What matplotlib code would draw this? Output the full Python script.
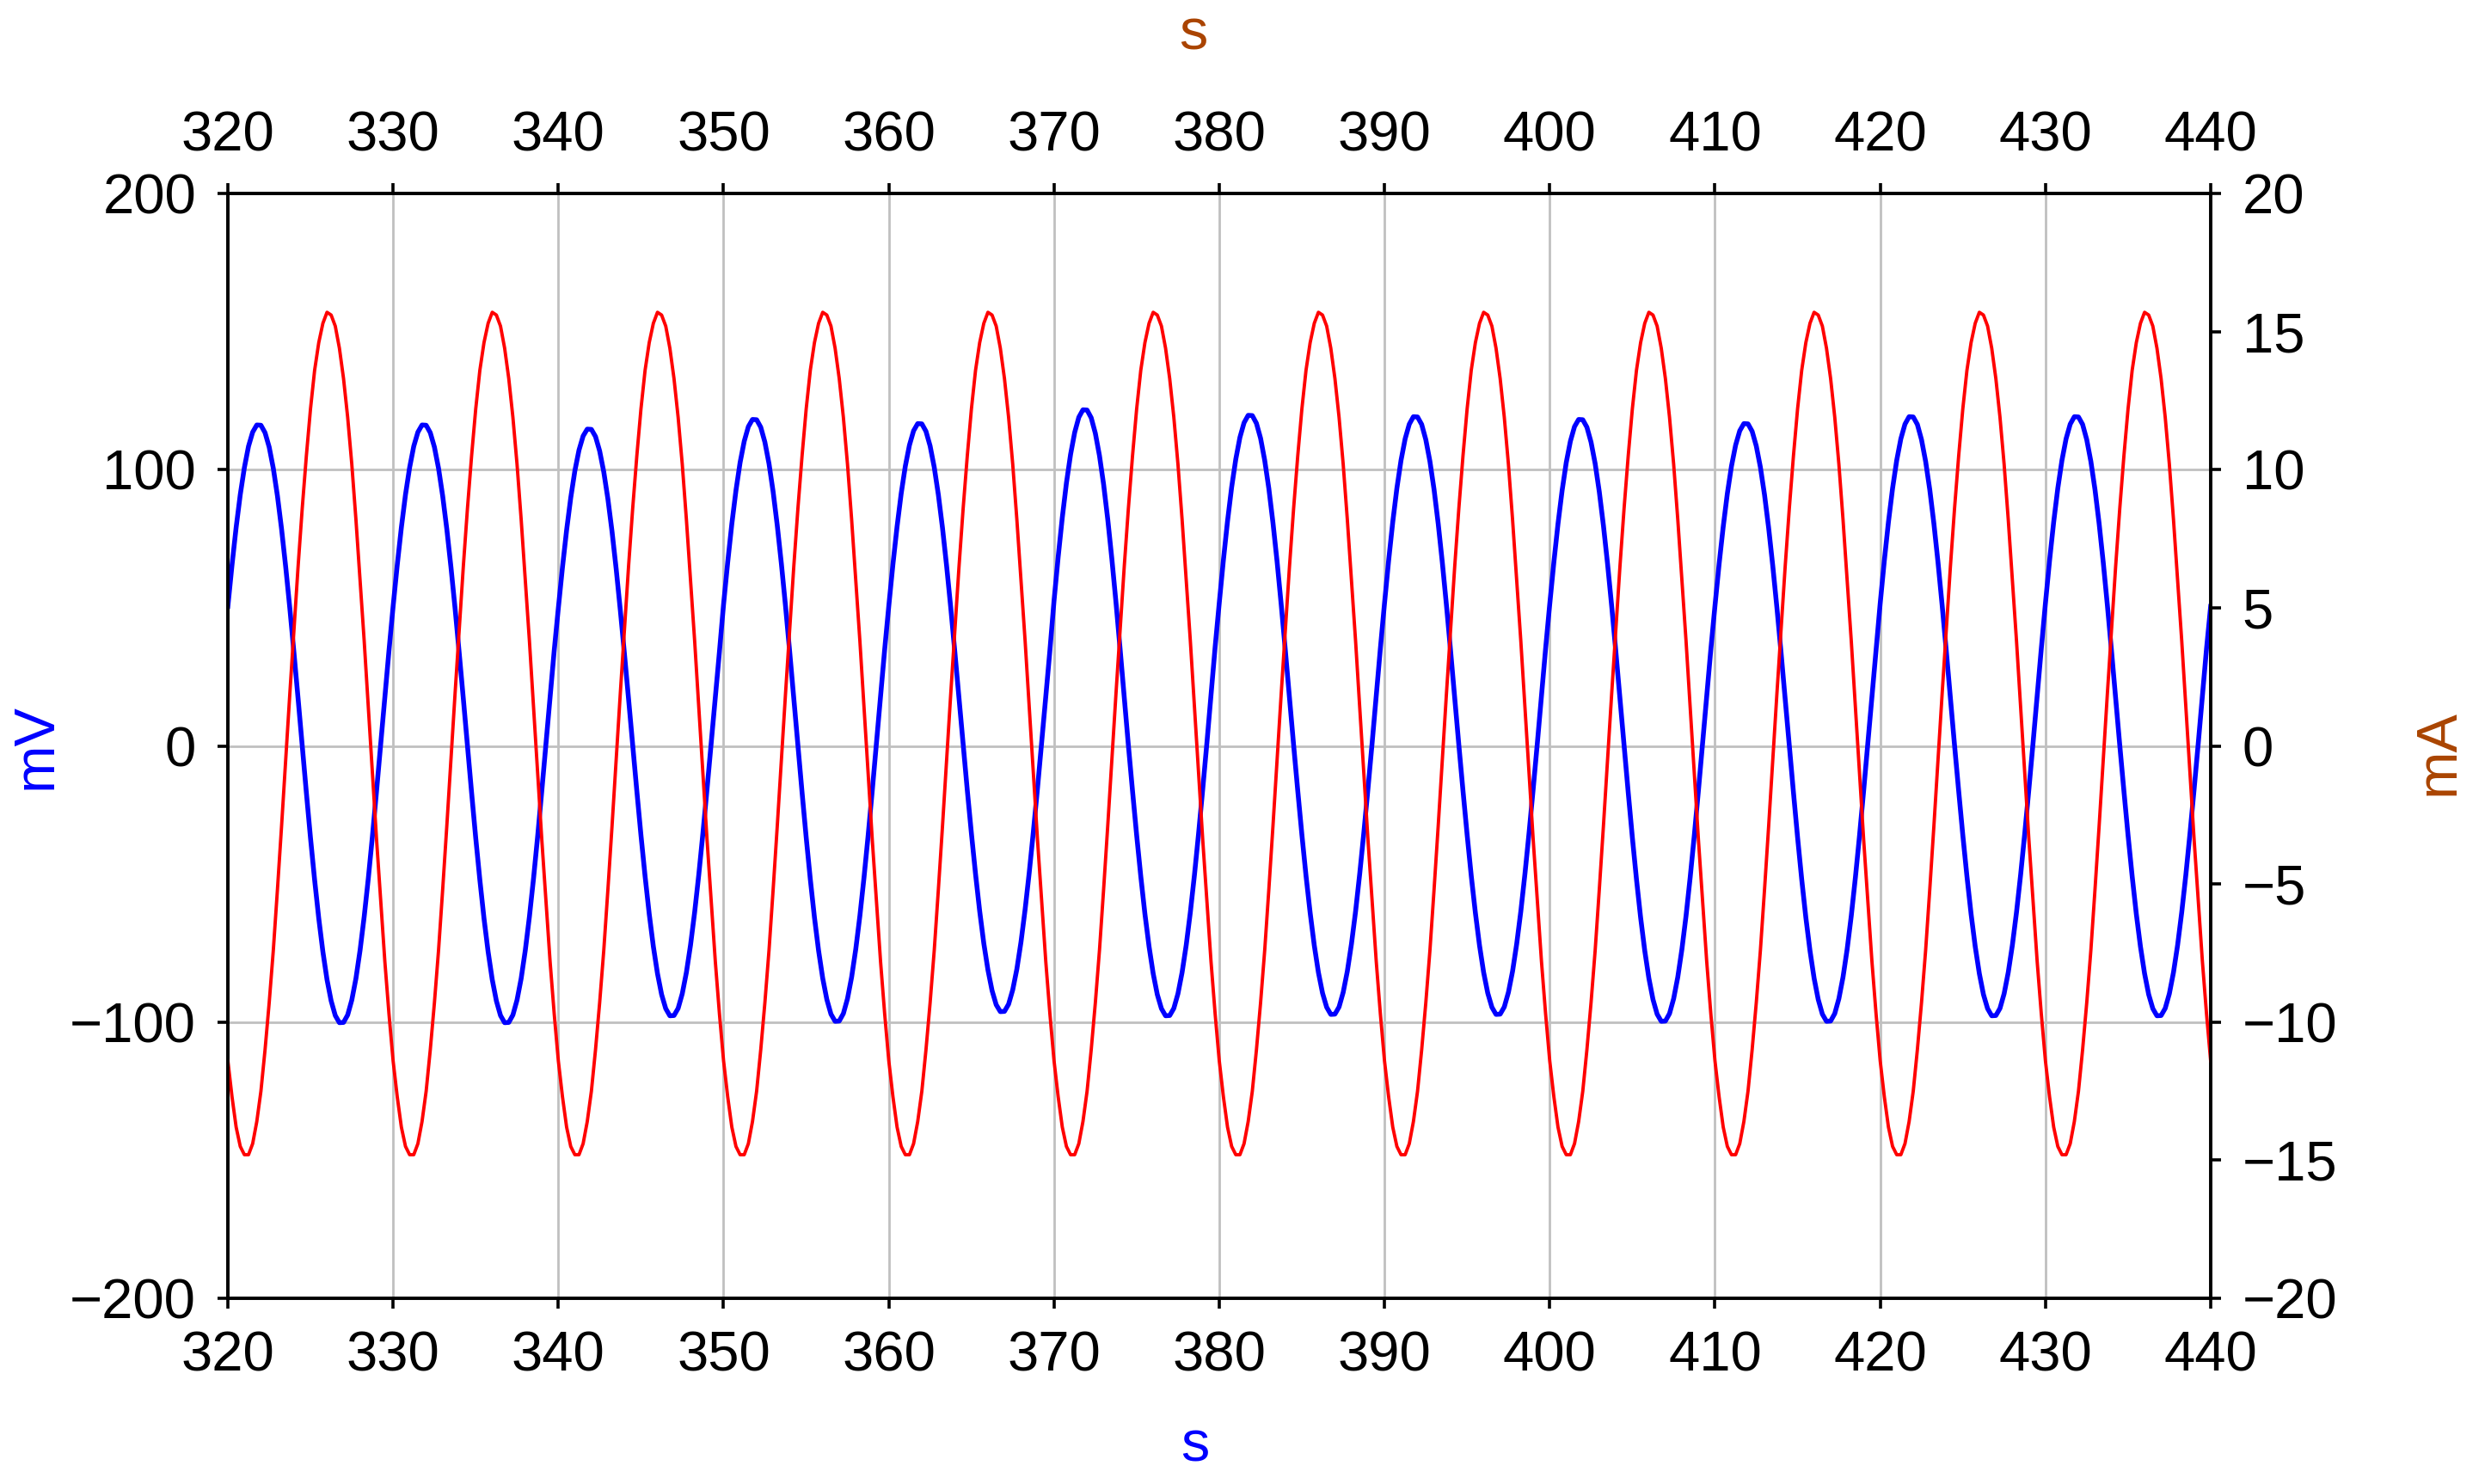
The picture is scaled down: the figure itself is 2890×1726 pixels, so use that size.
import numpy as np
import matplotlib.pyplot as plt

plt.rcParams['font.family'] = ['Liberation Sans', 'DejaVu Sans']

time_s = np.arange(320, 440.125, 0.25)

voltage_mV = [
    50.5, 65.5, 79.1, 91.0, 100.8, 108.5, 113.6, 116.2, 116.1, 113.4, 108.2, 100.5, 90.5, 78.5, 64.8, 49.8, 33.7, 17.1,
    0.0, -16.9, -33.3, -48.5, -62.4, -74.5, -84.6, -92.3, -97.6, -100.2, -100.1, -97.4, -92.0, -84.2, -74.0, -61.8, -47.9, -32.6, -16.2, 0.8, 17.8, 34.5,
    50.5, 65.5, 79.1, 91.0, 100.8, 108.5, 113.6, 116.2, 116.1, 113.4, 108.2, 100.5, 90.5, 78.5, 64.8, 49.8, 33.7, 17.1,
    0.0, -16.9, -33.3, -48.5, -62.4, -74.5, -84.6, -92.3, -97.6, -100.2, -100.1, -97.4, -92.0, -84.2, -74.0, -61.8, -47.9, -32.6, -16.2, 0.8, 17.8, 34.5,
    49.9, 64.7, 78.1, 89.8, 99.6, 107.1, 112.2, 114.7, 114.6, 112.0, 106.8, 99.2, 89.4, 77.6, 64.1, 49.2, 33.4, 17.0,
    0.2, -16.3, -32.3, -47.2, -60.8, -72.6, -82.4, -90.0, -95.1, -97.7, -97.6, -95.0, -89.7, -82.0, -72.1, -60.2, -46.6, -31.6, -15.6, 1.0, 17.7, 34.1,
    51.3, 66.5, 80.4, 92.5, 102.6, 110.3, 115.6, 118.2, 118.1, 115.4, 110.0, 102.2, 92.0, 79.8, 65.9, 50.6, 34.2, 17.2,
    0.1, -16.8, -33.1, -48.3, -62.1, -74.1, -84.1, -91.8, -97.1, -99.7, -99.6, -96.9, -91.5, -83.7, -73.6, -61.5, -47.6, -32.4, -16.1, 0.8, 18.0, 34.9,
    50.7, 65.8, 79.4, 91.4, 101.3, 108.9, 114.1, 116.7, 116.6, 113.9, 108.6, 100.9, 90.9, 78.9, 65.1, 50.0, 33.8, 17.1,
    0.4, -16.0, -31.7, -46.4, -59.8, -71.5, -81.1, -88.6, -93.7, -96.2, -96.1, -93.5, -88.3, -80.8, -71.0, -59.2, -45.8, -31.0, -15.3, 1.1, 17.8, 34.6,
    52.6, 68.4, 82.7, 95.2, 105.5, 113.5, 119.0, 121.7, 121.6, 118.8, 113.2, 105.1, 94.7, 82.1, 67.7, 51.9, 35.0, 17.5,
    0.2, -16.3, -32.3, -47.2, -60.8, -72.6, -82.4, -90.0, -95.1, -97.7, -97.6, -95.0, -89.7, -82.0, -72.1, -60.2, -46.6, -31.6, -15.6, 1.0, 18.3, 35.8,
    51.8, 67.3, 81.4, 93.7, 103.8, 111.7, 117.0, 119.7, 119.6, 116.8, 111.4, 103.4, 93.2, 80.8, 66.7, 51.1, 34.5, 17.3,
    0.3, -16.2, -32.1, -47.0, -60.4, -72.2, -82.0, -89.5, -94.6, -97.2, -97.1, -94.5, -89.2, -81.6, -71.7, -59.9, -46.3, -31.4, -15.5, 1.0, 18.1, 35.3,
    51.6, 67.1, 81.1, 93.3, 103.4, 111.2, 116.5, 119.2, 119.1, 116.4, 110.9, 103.0, 92.8, 80.5, 66.4, 50.9, 34.4, 17.3,
    0.3, -16.2, -32.1, -47.0, -60.4, -72.2, -82.0, -89.5, -94.6, -97.2, -97.1, -94.5, -89.2, -81.6, -71.7, -59.9, -46.3, -31.4, -15.5, 1.0, 18.0, 35.2,
    51.3, 66.5, 80.4, 92.5, 102.6, 110.3, 115.6, 118.2, 118.1, 115.4, 110.0, 102.2, 92.0, 79.8, 65.9, 50.6, 34.2, 17.2,
    0.1, -16.8, -33.1, -48.3, -62.1, -74.1, -84.1, -91.8, -97.1, -99.7, -99.6, -96.9, -91.5, -83.7, -73.6, -61.5, -47.6, -32.4, -16.1, 0.8, 18.0, 34.9,
    50.7, 65.8, 79.4, 91.4, 101.3, 108.9, 114.1, 116.7, 116.6, 113.9, 108.6, 100.9, 90.9, 78.9, 65.1, 50.0, 33.8, 17.1,
    0.1, -16.8, -33.1, -48.3, -62.1, -74.1, -84.1, -91.8, -97.1, -99.7, -99.6, -96.9, -91.5, -83.7, -73.6, -61.5, -47.6, -32.4, -16.1, 0.8, 17.8, 34.6,
    51.6, 67.1, 81.1, 93.3, 103.4, 111.2, 116.5, 119.2, 119.1, 116.4, 110.9, 103.0, 92.8, 80.5, 66.4, 50.9, 34.4, 17.3,
    0.2, -16.3, -32.3, -47.2, -60.8, -72.6, -82.4, -90.0, -95.1, -97.7, -97.6, -95.0, -89.7, -82.0, -72.1, -60.2, -46.6, -31.6, -15.6, 1.0, 18.0, 35.2,
    51.6, 67.1, 81.1, 93.3, 103.4, 111.2, 116.5, 119.2, 119.1, 116.4, 110.9, 103.0, 92.8, 80.5, 66.4, 50.9, 34.4, 17.3,
    0.2, -16.3, -32.3, -47.2, -60.8, -72.6, -82.4, -90.0, -95.1, -97.7, -97.6, -95.0, -89.7, -82.0, -72.1, -60.2, -46.6, -31.6, -15.6, 1.0, 18.0, 35.2,
    50.5,
]

current_mA = [
    -11.4, -12.7, -13.8, -14.5, -14.8, -14.8, -14.4, -13.6, -12.5, -11.0, -9.3, -7.4, -5.2, -2.9, -0.5, 1.9, 4.2, 6.5, 8.6, 10.5,
    12.2, 13.6, 14.6, 15.3, 15.7, 15.6, 15.2, 14.4, 13.3, 11.9, 10.2, 8.2, 6.0, 3.8, 1.4, -1.0, -3.4, -5.6, -7.8, -9.7,
    -11.4, -12.7, -13.8, -14.5, -14.8, -14.8, -14.4, -13.6, -12.5, -11.0, -9.3, -7.4, -5.2, -2.9, -0.5, 1.9, 4.2, 6.5, 8.6, 10.5,
    12.2, 13.6, 14.6, 15.3, 15.7, 15.6, 15.2, 14.4, 13.3, 11.9, 10.2, 8.2, 6.0, 3.8, 1.4, -1.0, -3.4, -5.6, -7.8, -9.7,
    -11.4, -12.7, -13.8, -14.5, -14.8, -14.8, -14.4, -13.6, -12.5, -11.0, -9.3, -7.4, -5.2, -2.9, -0.5, 1.9, 4.2, 6.5, 8.6, 10.5,
    12.2, 13.6, 14.6, 15.3, 15.7, 15.6, 15.2, 14.4, 13.3, 11.9, 10.2, 8.2, 6.0, 3.8, 1.4, -1.0, -3.4, -5.6, -7.8, -9.7,
    -11.4, -12.7, -13.8, -14.5, -14.8, -14.8, -14.4, -13.6, -12.5, -11.0, -9.3, -7.4, -5.2, -2.9, -0.5, 1.9, 4.2, 6.5, 8.6, 10.5,
    12.2, 13.6, 14.6, 15.3, 15.7, 15.6, 15.2, 14.4, 13.3, 11.9, 10.2, 8.2, 6.0, 3.8, 1.4, -1.0, -3.4, -5.6, -7.8, -9.7,
    -11.4, -12.7, -13.8, -14.5, -14.8, -14.8, -14.4, -13.6, -12.5, -11.0, -9.3, -7.4, -5.2, -2.9, -0.5, 1.9, 4.2, 6.5, 8.6, 10.5,
    12.2, 13.6, 14.6, 15.3, 15.7, 15.6, 15.2, 14.4, 13.3, 11.9, 10.2, 8.2, 6.0, 3.8, 1.4, -1.0, -3.4, -5.6, -7.8, -9.7,
    -11.4, -12.7, -13.8, -14.5, -14.8, -14.8, -14.4, -13.6, -12.5, -11.0, -9.3, -7.4, -5.2, -2.9, -0.5, 1.9, 4.2, 6.5, 8.6, 10.5,
    12.2, 13.6, 14.6, 15.3, 15.7, 15.6, 15.2, 14.4, 13.3, 11.9, 10.2, 8.2, 6.0, 3.8, 1.4, -1.0, -3.4, -5.6, -7.8, -9.7,
    -11.4, -12.7, -13.8, -14.5, -14.8, -14.8, -14.4, -13.6, -12.5, -11.0, -9.3, -7.4, -5.2, -2.9, -0.5, 1.9, 4.2, 6.5, 8.6, 10.5,
    12.2, 13.6, 14.6, 15.3, 15.7, 15.6, 15.2, 14.4, 13.3, 11.9, 10.2, 8.2, 6.0, 3.8, 1.4, -1.0, -3.4, -5.6, -7.8, -9.7,
    -11.4, -12.7, -13.8, -14.5, -14.8, -14.8, -14.4, -13.6, -12.5, -11.0, -9.3, -7.4, -5.2, -2.9, -0.5, 1.9, 4.2, 6.5, 8.6, 10.5,
    12.2, 13.6, 14.6, 15.3, 15.7, 15.6, 15.2, 14.4, 13.3, 11.9, 10.2, 8.2, 6.0, 3.8, 1.4, -1.0, -3.4, -5.6, -7.8, -9.7,
    -11.4, -12.7, -13.8, -14.5, -14.8, -14.8, -14.4, -13.6, -12.5, -11.0, -9.3, -7.4, -5.2, -2.9, -0.5, 1.9, 4.2, 6.5, 8.6, 10.5,
    12.2, 13.6, 14.6, 15.3, 15.7, 15.6, 15.2, 14.4, 13.3, 11.9, 10.2, 8.2, 6.0, 3.8, 1.4, -1.0, -3.4, -5.6, -7.8, -9.7,
    -11.4, -12.7, -13.8, -14.5, -14.8, -14.8, -14.4, -13.6, -12.5, -11.0, -9.3, -7.4, -5.2, -2.9, -0.5, 1.9, 4.2, 6.5, 8.6, 10.5,
    12.2, 13.6, 14.6, 15.3, 15.7, 15.6, 15.2, 14.4, 13.3, 11.9, 10.2, 8.2, 6.0, 3.8, 1.4, -1.0, -3.4, -5.6, -7.8, -9.7,
    -11.4, -12.7, -13.8, -14.5, -14.8, -14.8, -14.4, -13.6, -12.5, -11.0, -9.3, -7.4, -5.2, -2.9, -0.5, 1.9, 4.2, 6.5, 8.6, 10.5,
    12.2, 13.6, 14.6, 15.3, 15.7, 15.6, 15.2, 14.4, 13.3, 11.9, 10.2, 8.2, 6.0, 3.8, 1.4, -1.0, -3.4, -5.6, -7.8, -9.7,
    -11.4, -12.7, -13.8, -14.5, -14.8, -14.8, -14.4, -13.6, -12.5, -11.0, -9.3, -7.4, -5.2, -2.9, -0.5, 1.9, 4.2, 6.5, 8.6, 10.5,
    12.2, 13.6, 14.6, 15.3, 15.7, 15.6, 15.2, 14.4, 13.3, 11.9, 10.2, 8.2, 6.0, 3.8, 1.4, -1.0, -3.4, -5.6, -7.8, -9.7,
    -11.4,
]

x_ticks = list(range(320, 441, 10))
mv_ticks = [-200, -100, 0, 100, 200]
ma_ticks = [-20, -15, -10, -5, 0, 5, 10, 15, 20]

blue = '#0000ff'
red = '#ff0000'
brown = '#aa4400'

fig = plt.figure(figsize=(14.45, 8.63), dpi=200)
ax = fig.add_axes([0.0917, 0.1251, 0.7979, 0.7445])
ax.grid(True, color='#c0c0c0', lw=1.0)
ax.set_axisbelow(True)
ax.plot(time_s, voltage_mV, color=blue, lw=2.0)
ax.set_xlim(320, 440)
ax.set_ylim(-200, 200)
ax.set_xticks(x_ticks)
ax.set_yticks(mv_ticks)
ax.tick_params(direction='out', length=4.3, width=1.3, pad=9, labelsize=23.5,
               top=True, labeltop=True)

ax2 = ax.twinx()
ax2.plot(time_s, current_mA, color=red, lw=1.4)
ax2.set_ylim(-20, 20)
ax2.set_yticks(ma_ticks)
ax2.tick_params(direction='out', length=4.3, width=1.3, pad=9, labelsize=23.5)

for a in (ax, ax2):
    for sp in a.spines.values():
        sp.set_linewidth(1.3)

fig.text(1390 / 2890, 1 - 1682 / 1726, 's', color=blue, fontsize=24, ha='center', va='center')
fig.text(1388 / 2890, 1 - 40 / 1726, 's', color=brown, fontsize=24, ha='center', va='center')
fig.text(43 / 2890, 1 - 868 / 1726, 'mV', color=blue, fontsize=24, rotation=90, ha='center', va='center')
fig.text(2837 / 2890, 1 - 875 / 1726, 'mA', color=brown, fontsize=24, rotation=90, ha='center', va='center')

fig.savefig('out.png', dpi=200)
